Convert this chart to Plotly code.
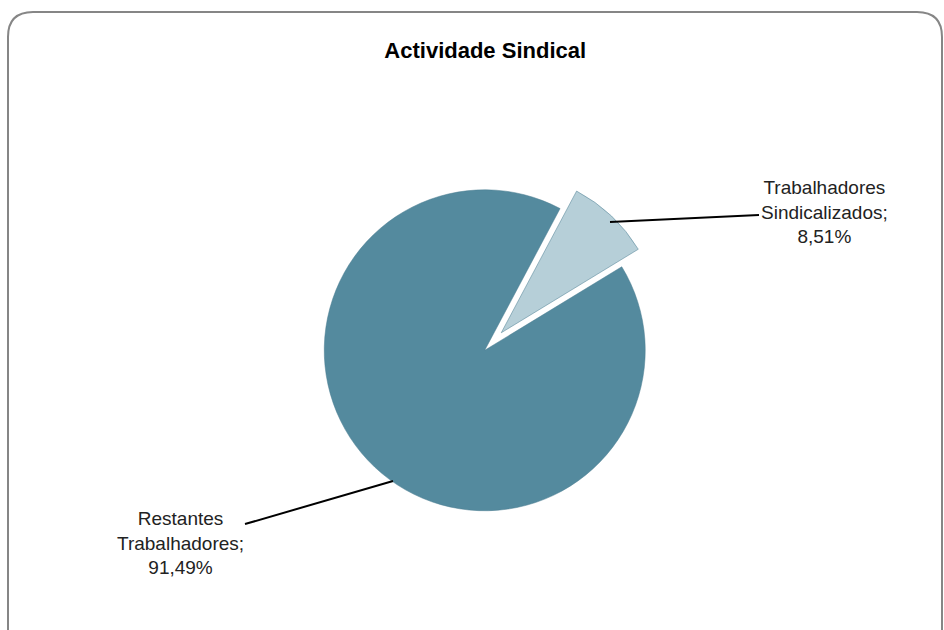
import plotly.graph_objects as go

labels = ['Trabalhadores Sindicalizados', 'Restantes Trabalhadores']
values = [8.51, 91.49]
label_text = ['Trabalhadores<br>Sindicalizados;<br>8,51%',
              'Restantes<br>Trabalhadores;<br>91,49%']
colors = ['#B6CFD8', '#548A9E']

W, H = 944, 630

fig = go.Figure(go.Pie(
    labels=labels,
    values=values,
    sort=False,
    direction='clockwise',
    rotation=28,
    pull=[0.15, 0],
    marker=dict(colors=colors, line=dict(color='#4A7D90', width=0.5)),
    textinfo='none',
    hoverinfo='label+percent',
    domain=dict(x=[0.318, 0.709], y=[0.15, 0.738]),
    showlegend=False,
))

# rounded chart border (paper coords)
rx, ry = 25 / W, 25 / H
x0, x1, y0, y1 = 8 / W, 942 / W, -0.02, 1 - 12 / H
path = (f'M {x0+rx},{y1} L {x1-rx},{y1} Q {x1},{y1} {x1},{y1-ry} '
        f'L {x1},{y0} L {x0},{y0} L {x0},{y1-ry} Q {x0},{y1} {x0+rx},{y1} Z')

fig.update_layout(
    width=W, height=H,
    margin=dict(l=0, r=0, t=0, b=0),
    paper_bgcolor='white',
    plot_bgcolor='white',
    font=dict(family='Liberation Sans, Arial', color='#222222'),
    title=dict(text='<b>Actividade Sindical</b>', x=0.514, y=1 - 50 / H,
               xanchor='center', yanchor='middle',
               font=dict(size=22, color='black')),
    shapes=[dict(type='path', xref='paper', yref='paper', path=path,
                 line=dict(color='#868686', width=2))],
    annotations=[
        dict(text=label_text[0], xref='paper', yref='paper',
             x=610 / W, y=1 - 222 / H, ax=214, ay=-10, showarrow=True,
             arrowhead=0, arrowwidth=2, arrowcolor='black', align='center',
             font=dict(size=19, color='#222222')),
        dict(text=label_text[1], xref='paper', yref='paper',
             x=393 / W, y=1 - 481 / H, ax=-213, ay=62, showarrow=True,
             arrowhead=0, arrowwidth=2, arrowcolor='black', align='center',
             font=dict(size=19, color='#222222')),
    ],
)

fig.write_html('out.html', config={'displayModeBar': False},
               post_script="document.body.style.margin='0';")
